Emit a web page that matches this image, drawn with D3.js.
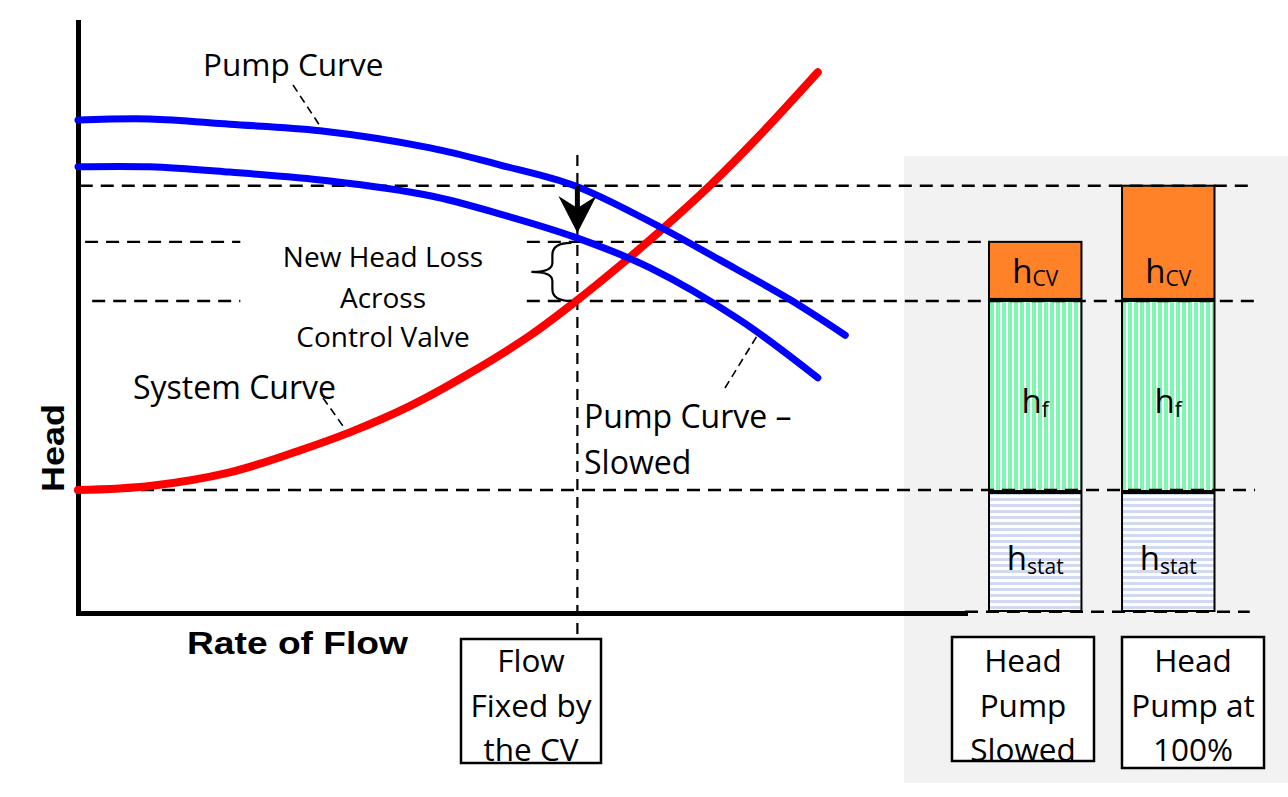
<!DOCTYPE html>
<html>
<head>
<meta charset="utf-8">
<script src="https://cdn.jsdelivr.net/npm/d3@7"></script>
<style>
  html, body { margin: 0; padding: 0; background: #ffffff; }
  svg { display: block; }
  .calibri { font-family: "Open Sans", "Noto Sans", sans-serif; }
  .bold { font-family: "Liberation Sans", Arial, sans-serif; font-weight: bold; }
</style>
</head>
<body>
<svg id="chart" width="1288" height="797"></svg>
<script>
// ---------------- DATA ----------------
// Flow (x) and head (y) in relative units, 0..100 on the main chart
const pumpFlow   = [0, 8.1, 17.1, 27.3, 39.7, 47.6, 56.0, 64.5, 72.4, 80.3, 86.5];
const pumpHead   = [83.4, 83.6, 82.7, 81.6, 78.7, 75.8, 72.3, 66.2, 59.7, 53.0, 47.0];

const slowedFlow = [0, 8.1, 17.1, 28.4, 39.7, 47.6, 56.0, 64.5, 74.6, 83.4];
const slowedHead = [75.5, 75.5, 74.6, 73.1, 70.6, 67.5, 63.6, 58.4, 49.6, 39.8];

const systemFlow = [0, 8.1, 17.1, 25.0, 30.7, 37.4, 44.2, 51.0, 56.0, 61.1, 65.6, 71.3, 76.9, 83.4];
const systemHead = [20.8, 21.5, 23.8, 27.5, 30.6, 35.0, 40.6, 47.0, 52.6, 58.8, 64.6, 72.4, 80.9, 91.5];

// Operating flow fixed by the control valve
const cvFlow = 56.3;
// Reference head levels
const headFullPump = 72.3;   // pump at 100% at cvFlow
const headSlowed   = 62.8;   // slowed pump at cvFlow
const headSystem   = 52.8;   // system curve at cvFlow
const headStatic   = 20.8;   // static head
const arrowTipHead = 64.3;

// Dashed reference segments: [head, flowStart, flowEnd]
const refSegments = [
  [headFullPump, 0.2, 132.7],
  [headSlowed, 0.8, 18.3],
  [headSlowed, 50.6, 102.8],
  [headSystem, 1.6, 18.3],
  [headSystem, 50.6, 132.7],
  [headStatic, 0, 132.7],
  [0.2, 100, 132.1]
];

// Stacked head bars
const barCategories = ["Head Pump Slowed", "Head Pump at 100%"];
const hStat = [20.3, 20.3];
const hF    = [32.5, 32.5];
const hCV   = [10.0, 19.5];

// Axis / labels
const xAxisTitle = "Rate of Flow";
const yAxisTitle = "Head";
const flowBoxLines = ["Flow", "Fixed by", "the CV"];
const barBoxLines = [["Head", "Pump", "Slowed"], ["Head", "Pump at", "100%"]];
const lossLabelLines = ["New Head Loss", "Across", "Control Valve"];

// ---------------- SCALES ----------------
const svg = d3.select("#chart");
const x = d3.scaleLinear().domain([0, 100]).range([78, 965]);
const y = d3.scaleLinear().domain([0, 100]).range([613, 22]);
const xb = d3.scaleBand().domain(barCategories).range([989, 1214.5]).paddingInner(0.305).paddingOuter(0);

// ---------------- DEFS ----------------
const defs = svg.append("defs");
const pg = defs.append("pattern").attr("id", "hfPat").attr("patternUnits", "userSpaceOnUse")
  .attr("width", 6).attr("height", 6);
pg.append("rect").attr("width", 6).attr("height", 6).attr("fill", "#ffffff");
pg.append("rect").attr("x", 0).attr("width", 4).attr("height", 6).attr("fill", "#7cf8b0");

const pb = defs.append("pattern").attr("id", "hsPat").attr("patternUnits", "userSpaceOnUse")
  .attr("width", 6).attr("height", 6);
pb.append("rect").attr("width", 6).attr("height", 6).attr("fill", "#ffffff");
pb.append("rect").attr("y", 0).attr("width", 6).attr("height", 3).attr("fill", "#d0d9ef");

// ---------------- BACKGROUND PANEL ----------------
svg.append("rect").attr("x", 904).attr("y", 156).attr("width", 384).attr("height", 627)
  .attr("fill", "#f2f2f2");

// ---------------- BARS ----------------
const barG = svg.append("g");
barCategories.forEach((c, i) => {
  const bx = xb(c), bw = xb.bandwidth();
  const segs = [
    [0, hStat[i], "url(#hsPat)"],
    [hStat[i], hStat[i] + hF[i], "url(#hfPat)"],
    [hStat[i] + hF[i], hStat[i] + hF[i] + hCV[i], "#ff8228"]
  ];
  segs.forEach(s => {
    barG.append("rect").attr("x", bx).attr("y", y(s[1]))
      .attr("width", bw).attr("height", y(s[0]) - y(s[1]) - 2)
      .attr("fill", s[2]).attr("stroke", "#000").attr("stroke-width", 2);
  });
  const cx = bx + bw / 2;
  const labs = [
    ["h", "CV", 283, 3],
    ["h", "f", 413, 4],
    ["h", "stat", 570, 4]
  ];
  labs.forEach(l => {
    const t = barG.append("text").attr("class", "calibri").attr("x", cx).attr("y", l[2])
      .attr("text-anchor", "middle").attr("fill", "#000");
    t.append("tspan").attr("font-size", 33).text(l[0]);
    t.append("tspan").attr("font-size", 21).attr("dy", l[3]).text(l[1]);
  });
});

// ---------------- DASHED REFERENCE LINES ----------------
const refG = svg.append("g");
refSegments.forEach(s => {
  refG.append("line").attr("x1", x(s[1])).attr("x2", x(s[2]))
    .attr("y1", y(s[0])).attr("y2", y(s[0]))
    .attr("stroke", "#000").attr("stroke-width", 2.4)
    .attr("stroke-dasharray", "13,8");
});
// vertical line at CV flow
refG.append("line").attr("x1", x(cvFlow)).attr("x2", x(cvFlow))
  .attr("y1", y(77.5)).attr("y2", y(-4.2))
  .attr("stroke", "#000").attr("stroke-width", 2.2).attr("stroke-dasharray", "11,7");

// ---------------- AXES ----------------
const yAxis = svg.append("g").attr("transform", `translate(${x(0)},0)`)
  .call(d3.axisLeft(y).tickValues([]).tickSizeOuter(0));
const xAxis = svg.append("g").attr("transform", `translate(0,${y(0)})`)
  .call(d3.axisBottom(x).tickValues([]).tickSizeOuter(0));
[yAxis, xAxis].forEach(a => a.select(".domain").attr("stroke", "#000").attr("stroke-width", 5)
  .attr("stroke-linecap", "square"));

// ---------------- CURVES ----------------
const line = d3.line().x(d => x(d[0])).y(d => y(d[1])).curve(d3.curveCatmullRom.alpha(0.5));
const curveG = svg.append("g").attr("fill", "none").attr("stroke-linecap", "round");
curveG.append("path").datum(d3.zip(systemFlow, systemHead)).attr("d", line)
  .attr("stroke", "#ff0000").attr("stroke-width", 8);
curveG.append("path").datum(d3.zip(pumpFlow, pumpHead)).attr("d", line)
  .attr("stroke", "#0000ff").attr("stroke-width", 7);
curveG.append("path").datum(d3.zip(slowedFlow, slowedHead)).attr("d", line)
  .attr("stroke", "#0000ff").attr("stroke-width", 7);

// ---------------- ARROW ----------------
const ax = x(cvFlow), aTop = y(headFullPump), aTip = y(arrowTipHead);
svg.append("line").attr("x1", ax).attr("x2", ax).attr("y1", aTop).attr("y2", aTip - 22)
  .attr("stroke", "#000").attr("stroke-width", 5);
svg.append("path")
  .attr("d", `M${ax},${aTip} L${ax + 19},${aTip - 37} L${ax},${aTip - 25} L${ax - 19},${aTip - 37} Z`)
  .attr("fill", "#000");

// ---------------- BRACE ----------------
const bT = y(headSlowed) + 1, bB = y(headSystem), bM = (bT + bB) / 2;
const bR = x(cvFlow) - 6, bMid = bR - 19, bTip = bR - 40;
svg.append("path")
  .attr("d", `M${bR},${bT} Q${bMid},${bT} ${bMid},${bT + 12} L${bMid},${bM - 9} Q${bMid},${bM} ${bTip},${bM} ` +
             `Q${bMid},${bM} ${bMid},${bM + 9} L${bMid},${bB - 12} Q${bMid},${bB} ${bR},${bB}`)
  .attr("fill", "none").attr("stroke", "#000").attr("stroke-width", 2.2);

// ---------------- LEADER LINES ----------------
const leaders = [[293, 85, 322, 129], [323, 398, 343, 426], [725, 388, 757, 336]];
leaders.forEach(l => svg.append("line").attr("x1", l[0]).attr("y1", l[1]).attr("x2", l[2]).attr("y2", l[3])
  .attr("stroke", "#000").attr("stroke-width", 1.6).attr("stroke-dasharray", "8,5"));

// ---------------- TEXT LABELS ----------------
const txt = (s, tx, ty, size, anchor) => svg.append("text").attr("class", "calibri")
  .attr("x", tx).attr("y", ty).attr("font-size", size).attr("text-anchor", anchor || "start")
  .attr("fill", "#000").text(s);

txt("Pump Curve", 203, 76, 31.5);
txt("System Curve", 133, 399, 32);
txt("Pump Curve \u2013", 584, 428, 32);
txt("Slowed", 584, 474, 32);
lossLabelLines.forEach((s, i) => txt(s, 383, [267, 308, 347][i], 28, "middle"));

// axis titles
svg.append("text").attr("class", "bold").attr("font-size", 32)
  .attr("transform", `translate(64,448) rotate(-90)`).attr("text-anchor", "middle")
  .attr("textLength", 88).attr("lengthAdjust", "spacingAndGlyphs").text(yAxisTitle);
svg.append("text").attr("class", "bold").attr("font-size", 31)
  .attr("x", 187).attr("y", 654).attr("textLength", 221).attr("lengthAdjust", "spacingAndGlyphs")
  .text(xAxisTitle);

// ---------------- BOXES ----------------
const boxes = [
  { x0: 461, y0: 639, x1: 601, y1: 763, lines: flowBoxLines, fill: "#ffffff" },
  { x0: 952, y0: 637, x1: 1094, y1: 761, lines: barBoxLines[0], fill: "#ffffff" },
  { x0: 1122, y0: 637, x1: 1264, y1: 768, lines: barBoxLines[1], fill: "#ffffff" }
];
boxes.forEach(b => {
  svg.append("rect").attr("x", b.x0).attr("y", b.y0).attr("width", b.x1 - b.x0).attr("height", b.y1 - b.y0)
    .attr("fill", b.fill);
  const cx = (b.x0 + b.x1) / 2;
  b.lines.forEach((s, i) => txt(s, cx, [672, 717, 761][i], 31.5, "middle"));
  svg.append("rect").attr("x", b.x0).attr("y", b.y0).attr("width", b.x1 - b.x0).attr("height", b.y1 - b.y0)
    .attr("fill", "none").attr("stroke", "#000").attr("stroke-width", 2.5);
});
</script>
</body>
</html>
